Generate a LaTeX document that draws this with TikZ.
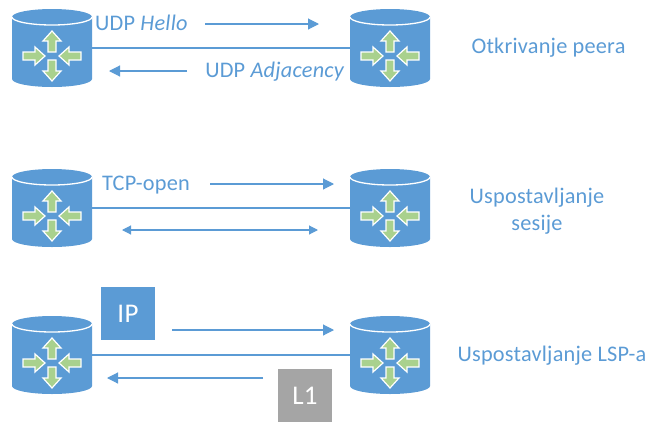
\documentclass[tikz,border=0pt]{standalone}
\usepackage{fontspec}
\setmainfont[LetterSpace=1]{Carlito}
\usetikzlibrary{arrows.meta}
\definecolor{rblue}{RGB}{91,155,213}
\definecolor{rgreen}{RGB}{169,209,142}
\definecolor{rgray}{RGB}{165,165,165}
\tikzset{
  x=1pt,y=-1pt,
  routerbox/.style={minimum width=80pt,minimum height=78pt,inner sep=0pt,outer sep=0pt},
  link/.style={rblue,line width=1.1pt},
  msg/.style={rblue,line width=1.1pt,-{Triangle[length=11pt,width=11pt]}},
  msgboth/.style={rblue,line width=1.1pt,{Triangle[length=9pt,width=9pt]}-{Triangle[length=9pt,width=9pt]}},
  lbl/.style={text=rblue,font=\fontsize{22.3}{26}\selectfont,inner sep=0pt,anchor=center,align=center},
  pkt/.style={minimum width=54pt,minimum height=53pt,inner sep=0pt,text=white,font=\fontsize{27}{32}\selectfont},
  garrow/.style={fill=rgreen,draw=white,line width=1.2pt,line join=miter},
  pics/router/.style={code={
    \fill[rblue] (-40,-31) -- (-40,31) arc[start angle=180,end angle=0,x radius=40,y radius=8] -- (40,-31) arc[start angle=0,end angle=-180,x radius=40,y radius=8] -- cycle;
    \draw[white,line width=1.3pt] (-40,-31) arc[start angle=180,end angle=0,x radius=40,y radius=8];
    \foreach \a in {90,270}{
      \begin{scope}[shift={(0,8)},rotate=\a]
        \draw[garrow] (4,-4) -- (15,-4) -- (15,-9) -- (25,0) -- (15,9) -- (15,4) -- (4,4) -- cycle;
      \end{scope}
    }
    \foreach \a in {0,180}{
      \begin{scope}[shift={(0,8)},rotate=\a]
        \draw[garrow] (29,-4) -- (17,-4) -- (17,-9) -- (7,0) -- (17,9) -- (17,4) -- (29,4) -- cycle;
      \end{scope}
    }
  }}
}
\begin{document}
\begin{tikzpicture}
\useasboundingbox (0,0) rectangle (651,421);
\foreach \n/\x/\y in {a1/52/48,a2/390/48,b1/52/208,b2/390/208,c1/52/355,c2/390/355}{
  \node[routerbox] (\n) at (\x,\y) {};
  \pic at (\x,\y) {router};
}
\draw[link] (a1) -- (a2);
\draw[link] (b1) -- (b2);
\draw[link] (c1) -- (c2);
\coordinate (p1) at (205,24); \coordinate (p2) at (319,24);
\coordinate (q1) at (187,71); \coordinate (q2) at (109,71);
\coordinate (r1) at (210,184); \coordinate (r2) at (334,184);
\coordinate (s1) at (122,230); \coordinate (s2) at (318,230);
\coordinate (t1) at (172,330); \coordinate (t2) at (334,330);
\coordinate (u1) at (263,378); \coordinate (u2) at (107,378);
\draw[msg] (p1) -- (p2);
\draw[msg] (q1) -- (q2);
\draw[msg] (r1) -- (r2);
\draw[msgboth] (s1) -- (s2);
\draw[msg] (t1) -- (t2);
\draw[msg] (u1) -- (u2);
\node[lbl] (t-hello) at (141.5,23) {UDP \textit{Hello}};
\node[lbl] (t-adj) at (275,72) {UDP \textit{Adjacency}};
\node[lbl] (t-tcp) at (146,185) {TCP-open};
\node[lbl] (t-o) at (548.5,48) {Otkrivanje peera};
\node[lbl] (t-u) at (537,211) {Uspostavljanje\\[1pt]sesije};
\node[lbl] (t-l) at (552,356) {Uspostavljanje LSP-a};
\node[pkt,fill=rblue] (ip) at (128,313.5) {IP};
\node[pkt,fill=rgray] (l1) at (305,395.5) {L1};
\end{tikzpicture}
\end{document}
